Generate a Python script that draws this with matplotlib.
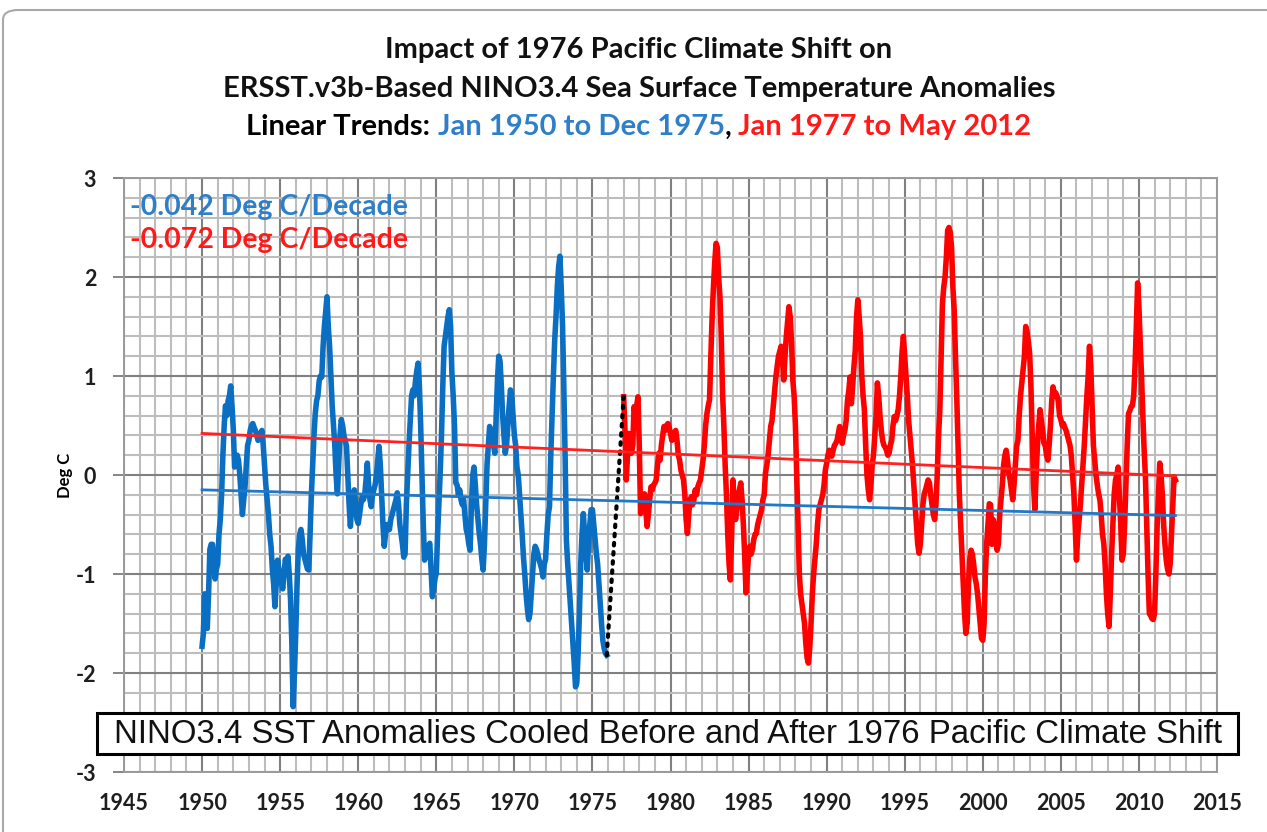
import numpy as np
import matplotlib
matplotlib.use("Agg")
import matplotlib.pyplot as plt
from matplotlib.patches import Rectangle, FancyBboxPatch

# ---------------- data ----------------
blue_start_year = 1950          # Jan 1950 .. Dec 1975, monthly
blue_vals = [
    -1.73, -1.6, -1.2, -1.25, -1.55, -1.2, -0.75, -0.7, -0.7, -0.85, -1.05, -0.95,   # 1950
    -0.9, -0.6, -0.45, -0.2, 0.2, 0.5, 0.7, 0.6, 0.75, 0.8, 0.9, 0.7,                # 1951
    0.46, 0.08, 0.15, 0.2, 0.15, 0.0, -0.2, -0.4, -0.25, -0.12, 0.1, 0.3,            # 1952
    0.35, 0.45, 0.5, 0.52, 0.48, 0.45, 0.4, 0.35, 0.38, 0.42, 0.45, 0.3,             # 1953
    0.1, -0.1, -0.25, -0.4, -0.6, -0.72, -0.95, -1.1, -1.33, -1.1, -0.86, -0.95,     # 1954
    -1.0, -1.1, -1.15, -1.0, -0.85, -0.9, -0.82, -1.0, -1.26, -1.7, -2.34, -2.0,     # 1955
    -1.6, -1.1, -0.75, -0.6, -0.55, -0.65, -0.8, -0.85, -0.9, -0.95, -0.96, -0.6,    # 1956
    -0.2, 0.1, 0.4, 0.62, 0.75, 0.8, 0.95, 1.0, 0.99, 1.3, 1.5, 1.65,                # 1957
    1.8, 1.5, 1.3, 1.0, 0.7, 0.5, 0.3, 0.0, -0.19, 0.1, 0.4, 0.56,                   # 1958
    0.5, 0.4, 0.35, 0.29, 0.0, -0.3, -0.52, -0.3, -0.2, -0.15, -0.3, -0.45,          # 1959
    -0.49, -0.4, -0.3, -0.22, -0.25, -0.2, -0.05, 0.12, -0.1, -0.25, -0.32, -0.2,    # 1960
    -0.15, -0.1, 0.0, 0.15, 0.29, 0.1, -0.2, -0.5, -0.72, -0.6, -0.5, -0.55,         # 1961
    -0.55, -0.45, -0.4, -0.35, -0.3, -0.25, -0.18, -0.3, -0.5, -0.6, -0.7, -0.83,    # 1962
    -0.8, -0.3, 0.0, 0.3, 0.55, 0.8, 0.86, 0.8, 0.95, 1.05, 1.13, 0.9,               # 1963
    0.5, 0.0, -0.5, -0.86, -0.8, -0.75, -0.72, -0.69, -0.95, -1.23, -1.15, -1.05,    # 1964
    -0.99, -0.6, -0.3, 0.02, 0.4, 0.9, 1.3, 1.4, 1.5, 1.6, 1.67, 1.5,                # 1965
    1.03, 0.8, 0.5, -0.08, -0.1, -0.2, -0.15, -0.25, -0.3, -0.25, -0.4, -0.55,       # 1966
    -0.6, -0.7, -0.76, -0.3, 0.0, 0.08, -0.1, -0.3, -0.45, -0.59, -0.7, -0.85,       # 1967
    -0.96, -0.7, -0.3, 0.1, 0.3, 0.49, 0.45, 0.35, 0.3, 0.22, 0.6, 0.95,             # 1968
    1.2, 1.15, 0.9, 0.6, 0.4, 0.22, 0.3, 0.5, 0.7, 0.86, 0.8, 0.6,                   # 1969
    0.4, 0.3, 0.08, 0.0, -0.2, -0.4, -0.6, -0.83, -1.0, -1.2, -1.35, -1.46,          # 1970
    -1.4, -1.2, -1.0, -0.8, -0.72, -0.75, -0.8, -0.86, -0.9, -0.95, -1.03, -0.9,     # 1971
    -0.85, -0.6, -0.4, -0.32, 0.2, 0.6, 1.0, 1.36, 1.6, 1.9, 2.1, 2.21,              # 1972
    1.9, 1.53, 0.9, 0.2, -0.66, -0.9, -1.1, -1.3, -1.5, -1.7, -1.9, -2.14,           # 1973
    -2.1, -1.8, -1.4, -0.9, -0.6, -0.39, -0.6, -0.8, -0.96, -0.7, -0.5, -0.35,       # 1974
    -0.35, -0.5, -0.65, -0.79, -0.9, -1.1, -1.3, -1.5, -1.67, -1.75, -1.8, -1.82,    # 1975
]

red_start_year = 1977           # Jan 1977 .. May 2012, monthly
red_vals = [
    0.79, 0.45, -0.05, 0.2, 0.42, 0.3, 0.22, 0.3, 0.69, 0.6, 0.7, 0.79,              # 1977
    0.3, -0.39, -0.3, -0.25, -0.19, -0.35, -0.52, -0.4, -0.25, -0.12, -0.15, -0.1,   # 1978
    -0.08, -0.05, 0.1, 0.22, 0.15, 0.3, 0.4, 0.49, 0.45, 0.5, 0.52, 0.48,            # 1979
    0.42, 0.35, 0.4, 0.42, 0.45, 0.35, 0.2, 0.15, 0.05, 0.0, -0.05, -0.2,            # 1980
    -0.45, -0.59, -0.4, -0.25, -0.22, -0.3, -0.25, -0.15, -0.2, -0.12, -0.08, -0.05, # 1981
    0.05, 0.15, 0.3, 0.5, 0.62, 0.7, 0.76, 1.2, 1.6, 1.9, 2.15, 2.34,                # 1982
    2.3, 2.0, 1.8, 1.4, 0.83, 0.5, 0.1, -0.2, -0.6, -0.9, -1.06, -0.6,               # 1983
    -0.05, -0.3, -0.45, -0.35, -0.2, -0.15, -0.08, -0.25, -0.5, -0.8, -1.19, -1.0,   # 1984
    -0.8, -0.72, -0.8, -0.75, -0.65, -0.6, -0.59, -0.5, -0.45, -0.4, -0.35, -0.25,   # 1985
    -0.2, 0.02, 0.1, 0.2, 0.35, 0.49, 0.55, 0.7, 0.85, 0.99, 1.1, 1.2,               # 1986
    1.25, 1.3, 1.2, 0.96, 1.2, 1.4, 1.55, 1.7, 1.6, 1.35, 0.96, 0.8,                 # 1987
    0.5, 0.0, -0.5, -0.99, -1.2, -1.3, -1.4, -1.5, -1.7, -1.85, -1.9, -1.75,         # 1988
    -1.5, -1.2, -1.0, -0.85, -0.7, -0.5, -0.35, -0.3, -0.25, -0.2, -0.1, 0.05,       # 1989
    0.12, 0.2, 0.25, 0.22, 0.19, 0.25, 0.3, 0.32, 0.35, 0.42, 0.49, 0.35,            # 1990
    0.32, 0.4, 0.45, 0.55, 0.75, 0.85, 0.99, 0.72, 0.9, 1.1, 1.26, 1.6,              # 1991
    1.77, 1.6, 1.4, 1.0, 0.8, 0.66, 0.3, 0.0, -0.15, -0.25, -0.1, 0.1,               # 1992
    0.2, 0.4, 0.6, 0.93, 0.8, 0.6, 0.45, 0.35, 0.3, 0.28, 0.25, 0.2,                 # 1993
    0.22, 0.3, 0.35, 0.5, 0.59, 0.55, 0.6, 0.66, 0.8, 1.0, 1.25, 1.4,                # 1994
    1.2, 0.99, 0.8, 0.55, 0.4, 0.25, 0.1, -0.1, -0.29, -0.5, -0.7, -0.79,            # 1995
    -0.7, -0.5, -0.3, -0.19, -0.15, -0.1, -0.05, -0.08, -0.2, -0.3, -0.4, -0.45,     # 1996
    -0.3, 0.0, 0.4, 0.66, 1.2, 1.73, 1.9, 2.0, 2.2, 2.47, 2.5, 2.45,                 # 1997
    2.3, 1.9, 1.67, 1.2, 0.79, 0.3, -0.2, -0.5, -0.8, -1.1, -1.4, -1.6,              # 1998
    -1.5, -1.1, -0.85, -0.76, -0.8, -0.9, -1.03, -1.1, -1.2, -1.35, -1.5, -1.65,     # 1999
    -1.67, -1.5, -1.0, -0.69, -0.5, -0.29, -0.3, -0.7, -0.45, -0.5, -0.65, -0.76,    # 2000
    -0.7, -0.4, -0.25, -0.1, 0.1, 0.2, 0.25, 0.15, 0.02, -0.05, -0.15, -0.25,        # 2001
    -0.1, 0.1, 0.29, 0.35, 0.6, 0.8, 0.93, 1.05, 1.2, 1.5, 1.45, 1.35,               # 2002
    1.23, 0.9, 0.4, -0.1, -0.35, 0.0, 0.3, 0.5, 0.66, 0.55, 0.45, 0.32,              # 2003
    0.3, 0.2, 0.15, 0.3, 0.5, 0.75, 0.89, 0.8, 0.83, 0.8, 0.75, 0.6,                 # 2004
    0.56, 0.5, 0.52, 0.48, 0.45, 0.4, 0.35, 0.3, 0.2, 0.0, -0.19, -0.5,              # 2005
    -0.86, -0.6, -0.46, -0.3, -0.1, 0.1, 0.3, 0.56, 0.8, 1.0, 1.3, 1.1,              # 2006
    0.7, 0.3, 0.15, 0.0, -0.1, -0.19, -0.25, -0.4, -0.6, -0.69, -0.9, -1.2,          # 2007
    -1.4, -1.53, -1.2, -0.8, -0.5, -0.19, -0.05, 0.0, 0.08, -0.2, -0.5, -0.86,       # 2008
    -0.8, -0.5, -0.1, 0.3, 0.62, 0.65, 0.69, 0.7, 0.8, 1.1, 1.5, 1.94,               # 2009
    1.7, 1.33, 1.0, 0.6, 0.25, -0.02, -0.5, -1.0, -1.4, -1.42, -1.45, -1.46,         # 2010
    -1.4, -1.0, -0.52, -0.2, 0.12, 0.0, -0.2, -0.5, -0.7, -0.86, -0.95, -1.0,        # 2011
    -0.9, -0.6, -0.3, -0.02, -0.05,                                                  # 2012
]

# linear trend lines (values at start Jan 1950 and end May 2012)
blue_trend = [-0.15, -0.41]
red_trend = [0.42, -0.01]

title_lines = ["Impact of 1976 Pacific Climate Shift on",
               "ERSST.v3b-Based NINO3.4 Sea Surface Temperature Anomalies"]
title_line3 = [("Linear Trends: ", "#000000"),
               ("Jan 1950 to Dec 1975", "#2f7fc8"),
               (", ", "#000000"),
               ("Jan 1977 to May 2012", "#ff1a1a")]
trend_labels = [("-0.042 Deg C/Decade", "#2f7fc8"),
                ("-0.072 Deg C/Decade", "#ff1a1a")]
box_text = "NINO3.4 SST Anomalies Cooled Before and After 1976 Pacific Climate Shift"
x_ticks = list(range(1945, 2016, 5))
y_ticks = [-3, -2, -1, 0, 1, 2, 3]

# ---------------- figure ----------------
W, H = 1267, 832
fig = plt.figure(figsize=(W / 100, H / 100), dpi=100)
fig.patch.set_facecolor("white")

def fx(px):
    return px / W

def fy(py):
    return 1 - py / H

# outer chart border (rounded, partly off-canvas)
border = FancyBboxPatch((fx(3), fy(845)), fx(1290) - fx(3), fy(10) - fy(845),
                        boxstyle="round,pad=0,rounding_size=0.012",
                        transform=fig.transFigure, facecolor="none",
                        edgecolor="#a8a8a8", linewidth=1.5, zorder=0)
fig.patches.append(border)

ax_l, ax_r, ax_t, ax_b = 124, 1217, 178, 772
ax = fig.add_axes([fx(ax_l), fy(ax_b), fx(ax_r) - fx(ax_l), fy(ax_t) - fy(ax_b)])
ax.set_xlim(1945, 2015)
ax.set_ylim(-3, 3)
ax.set_xticks(x_ticks)
ax.set_xticks(np.arange(1945, 2016, 1), minor=True)
ax.set_yticks(y_ticks)
ax.set_yticks(np.arange(-3, 3.001, 0.2), minor=True)
ax.grid(which="minor", color="#bdbdbd", linewidth=1.5)
ax.grid(which="major", color="#808080", linewidth=1.5)
ax.set_axisbelow(True)
for s in ax.spines.values():
    s.set_color("#9a9a9a")
    s.set_linewidth(1.4)

tick_font = dict(family="Lato", weight="bold", size=15.5)
ax.tick_params(axis="x", which="both", length=0, pad=15)
ax.tick_params(axis="y", which="major", length=8, width=1.4, color="#858585", pad=12)
ax.tick_params(axis="y", which="minor", length=0)
ax.set_xticklabels([str(v) for v in x_ticks], fontdict=tick_font, color="#1e1e1e")
ax.set_yticklabels([str(v) for v in y_ticks], fontdict=tick_font, color="#1e1e1e")
ax.set_ylabel("Deg C", family="Lato", weight="bold", fontsize=12, labelpad=2)

# series
bx = blue_start_year + np.arange(len(blue_vals)) / 12.0
rx = red_start_year + np.arange(len(red_vals)) / 12.0
ax.plot(bx, blue_vals, color="#0a6fc2", linewidth=4.0, solid_joinstyle="round", zorder=3)
ax.plot(rx, red_vals, color="#ff0000", linewidth=4.0, solid_joinstyle="round", zorder=3)
ax.plot([bx[-1], rx[0]], [blue_vals[-1], red_vals[0]], color="black",
        linestyle=(0, (0.6, 1.6)), linewidth=3.0, dash_capstyle="round", zorder=3)
ax.plot([bx[0], rx[-1]], blue_trend, color="#1f78c8", linewidth=2.0, zorder=4)
ax.plot([bx[0], rx[-1]], red_trend, color="#ff2020", linewidth=2.0, zorder=4)

# trend labels inside the plot
for (txt, col), ypx in zip(trend_labels, [207, 240]):
    fig.text(fx(130), fy(ypx), txt, color=col, family="Lato", weight="bold",
             fontsize=20.5, ha="left", va="center")

# title
title_size = 21
cx = 639
for line, ypx in zip(title_lines, [50, 89]):
    fig.text(fx(cx), fy(ypx), line, family="Lato", weight="bold",
             fontsize=title_size, ha="center", va="center", color="#111111")

parts = []
for s, c in title_line3:
    parts.append(fig.text(0, fy(127), s, color=c, family="Lato", weight="bold",
                          fontsize=title_size, ha="left", va="center"))
fig.canvas.draw()
r = fig.canvas.get_renderer()
widths = [t.get_window_extent(r).width for t in parts]
x0 = cx - sum(widths) / 2
for t, w in zip(parts, widths):
    t.set_x(fx(x0))
    x0 += w

# bottom annotation box
bx0, bx1, by0, by1 = 97, 1238, 713, 754
fig.patches.append(Rectangle((fx(bx0), fy(by1)), fx(bx1) - fx(bx0), fy(by0) - fy(by1),
                             transform=fig.transFigure, facecolor="white",
                             edgecolor="black", linewidth=2.2, zorder=5))
fig.text(fx((bx0 + bx1) / 2), fy((by0 + by1) / 2 + 1), box_text,
         family="Liberation Sans", fontsize=23.8, ha="center", va="center",
         color="#111111", zorder=6)

fig.savefig("out.png", dpi=100, facecolor="white")
